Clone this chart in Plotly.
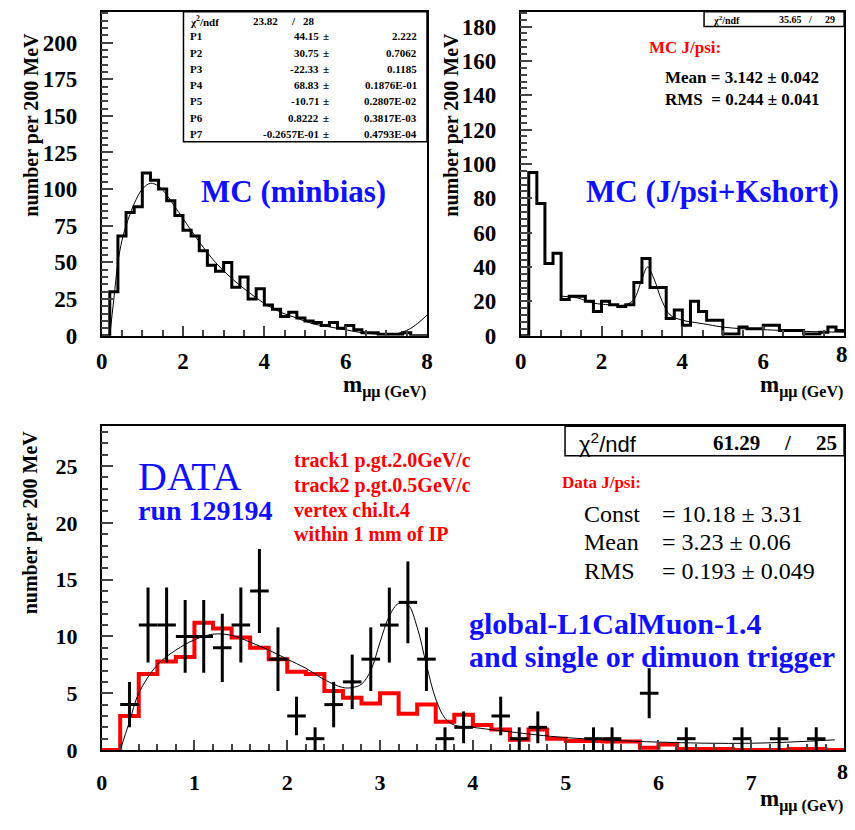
import plotly.graph_objects as go

# ================= DATA =================
BIN_LO = [0.0, 0.2, 0.4, 0.6, 0.8, 1.0, 1.2, 1.4, 1.6, 1.8,
          2.0, 2.2, 2.4, 2.6, 2.8, 3.0, 3.2, 3.4, 3.6, 3.8,
          4.0, 4.2, 4.4, 4.6, 4.8, 5.0, 5.2, 5.4, 5.6, 5.8,
          6.0, 6.2, 6.4, 6.6, 6.8, 7.0, 7.2, 7.4, 7.6, 7.8, 8.0]

# MC minbias histogram (200 MeV bins)
MINBIAS_COUNTS = [0, 30, 68, 84, 88, 111, 106, 100, 92, 82,
                  72, 68, 58, 48, 44, 50, 33, 40, 25, 32,
                  21, 18, 13, 16, 12, 10, 9, 7, 9, 5,
                  7, 4, 2, 2, 1, 1, 1, 2, 0, 0]
MINBIAS_FIT_X = [0.2, 0.3, 0.4, 0.5, 0.6, 0.8, 1.0, 1.2, 1.4, 1.6, 1.8, 2.0, 2.4, 2.8,
                 3.2, 3.6, 4.0, 4.4, 4.8, 5.2, 5.6, 6.0, 6.4, 6.8, 7.2, 7.6, 8.0]
MINBIAS_FIT_Y = [0, 25, 50, 65, 75, 90, 100, 104, 102, 96, 88, 80, 64, 50,
                 39, 30, 22, 16, 12, 8, 6, 4, 2, 1, 1, 5, 14]
MINBIAS_STATS = [("P1", "44.15", "2.222"), ("P2", "30.75", "0.7062"), ("P3", "-22.33", "0.1185"),
                 ("P4", "68.83", "0.1876E-01"), ("P5", "-10.71", "0.2807E-02"),
                 ("P6", "0.8222", "0.3817E-03"), ("P7", "-0.2657E-01", "0.4793E-04")]

# MC J/psi + Kshort histogram
JPSI_COUNTS = [0, 95, 77, 42, 48, 21, 23, 23, 20, 14,
               20, 18, 17, 18, 31, 45, 28, 28, 10, 15,
               6, 20, 14, 9, 9, 1, 1, 5, 4, 4,
               6, 6, 3, 3, 3, 1, 1, 2, 5, 3]
JPSI_FIT_X = [1.0, 1.4, 1.8, 2.2, 2.6, 2.8, 3.0, 3.14, 3.3, 3.5, 3.7, 4.0, 4.5, 5.0, 5.5, 6.0, 7.0, 8.0]
JPSI_FIT_Y = [23, 22, 19, 18, 18, 21, 33, 40, 33, 20, 12, 9, 7, 5, 4, 3.5, 2.5, 2]

# DATA run 129194
DATA_X = [0.3, 0.5, 0.7, 0.9, 1.1, 1.3, 1.5, 1.7, 1.9, 2.1, 2.3, 2.5, 2.7, 2.9, 3.1,
          3.3, 3.5, 3.7, 3.9, 4.3, 4.5, 4.7, 5.3, 5.5, 5.9, 6.3, 6.9, 7.3, 7.7]
DATA_Y = [4, 11, 11, 10, 10, 9, 11, 14, 8, 3, 1, 4, 6, 8, 11,
          13, 8, 1, 2, 3, 1, 2, 1, 1, 5, 1, 1, 1, 1]
DATA_ERR = [2.0, 3.3, 3.3, 3.2, 3.2, 3.0, 3.3, 3.7, 2.8, 1.7, 1.0, 2.0, 2.4, 2.8, 3.3,
            3.6, 2.8, 1.0, 1.4, 1.7, 1.0, 1.4, 1.0, 1.0, 2.2, 1.0, 1.0, 1.0, 1.0]
MC_SCALED = [0, 3, 6.7, 7.8, 8.2, 11.2, 10.7, 9.9, 9.0, 8.0,
             6.9, 6.7, 5.2, 4.6, 4.1, 5.0, 3.2, 4.0, 2.5, 3.1,
             2.2, 1.8, 0.9, 1.8, 1.0, 0.8, 0.8, 0.75, 0.75, 0.2,
             0.5, 0.1, 0.1, 0.1, 0, 0, 0, 0.1, 0.1, 0]
DATA_FIT_X = [0.2, 0.3, 0.4, 0.6, 0.8, 1.0, 1.2, 1.4, 1.6, 1.8, 2.0, 2.2, 2.4, 2.6, 2.7,
              2.8, 2.9, 3.0, 3.1, 3.2, 3.3, 3.4, 3.5, 3.6, 3.7, 3.8, 4.0, 4.4, 5.0, 6.0, 7.0, 7.9]
DATA_FIT_Y = [0, 2.5, 5, 7.5, 8.8, 9.7, 10.2, 10.1, 9.5, 8.8, 8.0, 7.2, 6.2, 5.5, 5.5,
              5.8, 7, 9.5, 11.8, 12.9, 12.8, 10.8, 7.5, 4.5, 2.8, 2.2, 2.0, 1.6, 1.1, 0.7, 0.6, 0.9]

TOP_XTICKS = [0, 2, 4, 6, 8]
BOT_XTICKS = [0, 1, 2, 3, 4, 5, 6, 7, 8]

# ================= LAYOUT HELPERS =================
W, H = 855, 830
SERIF = "Liberation Serif"


def px(x):
    return x / W


def py(y):
    return 1 - y / H


def step(counts):
    return BIN_LO, list(counts) + [counts[-1]]


fig = go.Figure()

# histograms
x, y = step(MINBIAS_COUNTS)
fig.add_trace(go.Scatter(x=x, y=y, mode="lines", line=dict(shape="hv", color="black", width=3),
                         xaxis="x", yaxis="y"))
fig.add_trace(go.Scatter(x=MINBIAS_FIT_X, y=MINBIAS_FIT_Y, mode="lines",
                         line=dict(shape="spline", color="black", width=1), xaxis="x", yaxis="y"))

x, y = step(JPSI_COUNTS)
fig.add_trace(go.Scatter(x=x, y=y, mode="lines", line=dict(shape="hv", color="black", width=3),
                         xaxis="x2", yaxis="y2"))
fig.add_trace(go.Scatter(x=JPSI_FIT_X, y=JPSI_FIT_Y, mode="lines",
                         line=dict(shape="spline", color="black", width=1), xaxis="x2", yaxis="y2"))

x, y = step(MC_SCALED)
fig.add_trace(go.Scatter(x=x, y=y, mode="lines", line=dict(shape="hv", color="#ff0000", width=4),
                         xaxis="x3", yaxis="y3"))
fig.add_trace(go.Scatter(x=DATA_FIT_X, y=DATA_FIT_Y, mode="lines",
                         line=dict(shape="spline", color="black", width=1), xaxis="x3", yaxis="y3"))
fig.add_trace(go.Scatter(
    x=DATA_X, y=DATA_Y, mode="markers", marker=dict(size=1, color="black"),
    error_y=dict(type="data", array=DATA_ERR, color="black", thickness=3, width=0),
    error_x=dict(type="constant", value=0.1, color="black", thickness=3, width=0),
    xaxis="x3", yaxis="y3"))

tickfont = dict(family=SERIF, size=23, color="black", weight="bold")
tickfont_b = dict(family=SERIF, size=22, color="black", weight="bold")


def xax(domain, ticks, minor, anchor, font, standoff):
    # the last tick label (8) sits on the page edge for the right panels; drawn as annotation there
    return dict(domain=domain, range=[0, 8], tickvals=ticks, ticks="inside", ticklen=10,
                tickwidth=1.5, minor=dict(dtick=minor, ticks="inside", ticklen=6, tickwidth=1.5),
                showline=True, linecolor="black", linewidth=1.5, mirror=True, showgrid=False,
                zeroline=False, tickfont=font, anchor=anchor, ticklabelstandoff=standoff)


def yax(domain, rng, dtick, minor, anchor, font):
    return dict(domain=domain, range=rng, dtick=dtick, tick0=0, ticks="inside", ticklen=12,
                tickwidth=1.5, minor=dict(dtick=minor, ticks="inside", ticklen=7, tickwidth=1.5),
                showline=True, linecolor="black", linewidth=1.5, mirror=True, showgrid=False,
                zeroline=False, tickfont=font, anchor=anchor, ticklabelstandoff=18)


top_y = [py(341), py(12)]
bot_y = [py(762), py(433)]
fig.update_layout(
    width=W, height=H, margin=dict(l=0, r=0, t=0, b=0),
    paper_bgcolor="white", plot_bgcolor="white", showlegend=False,
    xaxis=xax([px(97), px(427)], TOP_XTICKS, 0.5, "y", tickfont, 4),
    yaxis=yax(top_y, [0, 221], 25, 5, "x", tickfont),
    xaxis2=xax([px(522), px(850)], TOP_XTICKS[:-1], 0.5, "y2", tickfont, 4),
    yaxis2=yax(top_y, [0, 188.6], 20, 4, "x2", tickfont),
    xaxis3=xax([px(97), px(850)], BOT_XTICKS[:-1], 0.2, "y3", tickfont_b, 12),
    yaxis3=yax(bot_y, [0, 28.5], 5, 1, "x3", tickfont_b),
)

ann = []
shapes = []


def text(x, y, s, size, color="black", bold=True, xanchor="left", angle=0, family=SERIF):
    ann.append(dict(x=px(x), y=py(y), xref="paper", yref="paper", text=s, showarrow=False,
                    xanchor=xanchor, yanchor="middle", textangle=angle, borderpad=0,
                    font=dict(family=family, size=size, color=color,
                              weight="bold" if bold else "normal")))


# edge tick labels
text(855, 360, str(TOP_XTICKS[-1]), 23, xanchor="right")
text(855, 784, str(BOT_XTICKS[-1]), 22, xanchor="right")

# axis titles
for xc, yc in [(25, 127), (451, 127), (25, 531)]:
    text(xc, yc, "number per 200 MeV", 20, xanchor="center", angle=-90)
for xr, yc in [(427, 393), (850, 393), (850, 813)]:
    text(xr, yc, "m<sub>μμ (GeV)</sub>", 23, xanchor="right")

# top-left stats box
shapes.append(dict(type="rect", xref="paper", yref="paper", x0=px(180), x1=px(427),
                   y0=py(144), y1=py(12), line=dict(color="black", width=1.5), fillcolor="white"))
text(186, 21, "χ<sup>2</sup>/ndf", 11)
text(277, 21, "23.82", 11, xanchor="right")
text(288, 21, "/", 11)
text(300, 21, "28", 11)
for i, (name, val, err) in enumerate(MINBIAS_STATS):
    yy = 37 + i * 16.5
    text(186, yy, name, 11)
    text(318, yy, val, 11, xanchor="right")
    text(320, yy, "±", 11)
    text(418, yy, err, 11, xanchor="right")
text(197, 195, "MC (minbias)", 31, color="#1010ff")

# top-right
shapes.append(dict(type="rect", xref="paper", yref="paper", x0=px(708), x1=px(850),
                   y0=py(27), y1=py(12), line=dict(color="black", width=1.5), fillcolor="white"))
text(716, 20, "χ<sup>2</sup>/ndf", 10)
text(808, 20, "35.65", 10, xanchor="right")
text(812, 20, "/", 10)
text(830, 20, "29", 10)
text(651, 48, "MC J/psi:", 17, color="#ff0000")
text(667, 79, "Mean = 3.142 ± 0.042", 17)
text(667, 101, "RMS  = 0.244 ± 0.041", 17)
text(587, 195, "MC (J/psi+Kshort)", 31, color="#1010ff")

# bottom
shapes.append(dict(type="rect", xref="paper", yref="paper", x0=px(567), x1=px(850),
                   y0=py(463), y1=py(433), line=dict(color="black", width=1.5), fillcolor="white"))
text(580, 450, "χ<sup>2</sup>/ndf", 22, bold=False, family="Liberation Sans")
text(766, 450, "61.29", 21, xanchor="right")
text(788, 450, "/", 21)
text(821, 450, "25", 21)
text(133, 484, "DATA", 40, color="#1010ff", bold=False)
text(133, 519, "run 129194", 28, color="#1010ff")
for i, s in enumerate(["track1 p.gt.2.0GeV/c", "track2 p.gt.0.5GeV/c",
                       "vertex chi.lt.4", "within 1 mm of IP"]):
    text(291, 468 + i * 25, s, 20, color="#ff0000")
text(563, 490, "Data J/psi:", 17, color="#ff0000")
for i, (lab, val) in enumerate([("Const", "= 10.18 ± 3.31"), ("Mean", "= 3.23 ± 0.06"),
                                ("RMS", "= 0.193 ± 0.049")]):
    text(585, 522 + i * 29, lab, 24, bold=False)
    text(664, 522 + i * 29, val, 24, bold=False)
text(469, 633, "global-L1CalMuon-1.4", 30, color="#1010ff")
text(469, 667, "and single or dimuon trigger", 30, color="#1010ff")

fig.update_layout(annotations=ann, shapes=shapes)

# pin the page to the figure size so the browser shows it 1:1
PAGE_JS = (
    "var gd = document.getElementById('{plot_id}');"
    "[document.documentElement, document.body, gd.parentElement].forEach(function (el) {"
    "  el.style.margin = '0'; el.style.padding = '0'; el.style.overflow = 'hidden';"
    "  el.style.width = '855px'; el.style.height = '830px'; });"
)
fig.write_html("out.html", config={"displayModeBar": False}, post_script=PAGE_JS)
